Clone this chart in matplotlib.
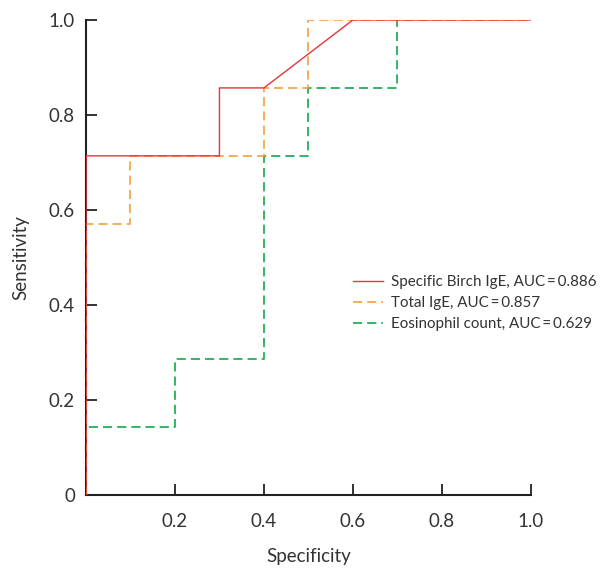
import matplotlib
matplotlib.use("Agg")
import matplotlib.pyplot as plt

# Data (1 - specificity on x as drawn, sensitivity on y)
birch_x = [0.0, 0.0, 0.3, 0.3, 0.4, 0.6, 1.0]
birch_y = [0.0, 0.714, 0.714, 0.857, 0.857, 1.0, 1.0]
total_x = [0.0, 0.0, 0.1, 0.1, 0.4, 0.4, 0.5, 0.5, 1.0]
total_y = [0.0, 0.571, 0.571, 0.714, 0.714, 0.857, 0.857, 1.0, 1.0]
eos_x = [0.0, 0.0, 0.2, 0.2, 0.4, 0.4, 0.5, 0.5, 0.7, 0.7, 1.0]
eos_y = [0.0, 0.143, 0.143, 0.286, 0.286, 0.714, 0.714, 0.857, 0.857, 1.0, 1.0]
labels = ["Specific Birch IgE, AUC\u2009=\u20090.886",
          "Total IgE, AUC\u2009=\u20090.857",
          "Eosinophil count, AUC\u2009=\u20090.629"]
xticks = [0.2, 0.4, 0.6, 0.8, 1.0]
xticklabels = ["0.2", "0.4", "0.6", "0.8", "1.0"]
yticks = [0.0, 0.2, 0.4, 0.6, 0.8, 1.0]
yticklabels = ["0", "0.2", "0.4", "0.6", "0.8", "1.0"]

plt.rcParams['font.family'] = ['Lato', 'DejaVu Sans']

fig = plt.figure(figsize=(6.02, 5.68), dpi=100)
ax = fig.add_axes([0.1429, 0.1285, 0.8816 - 0.1429, 0.9648 - 0.1285])

ax.plot(eos_x, eos_y, color='#12a84a', lw=1.2, dashes=(5.5, 3), label=labels[2], zorder=2)
ax.plot(total_x, total_y, color='#f5a03c', lw=1.2, dashes=(5.5, 3), label=labels[1], zorder=3)
ax.plot(birch_x, birch_y, color='#e8343a', lw=1.0, label=labels[0], zorder=4)

ax.set_xlim(0, 1.0)
ax.set_ylim(0, 1.0)
ax.set_xticks(xticks)
ax.set_xticklabels(xticklabels)
ax.set_yticks(yticks)
ax.set_yticklabels(yticklabels)
ax.tick_params(direction='in', length=8, width=1.3, color='#222222', labelsize=13.5, labelcolor='#333333')
ax.tick_params(axis='x', pad=13)
ax.tick_params(axis='y', pad=8)
for s in ['top', 'right']:
    ax.spines[s].set_visible(False)
for s in ['left', 'bottom']:
    ax.spines[s].set_linewidth(1.5)
    ax.spines[s].set_color('#222222')

ax.set_xlabel('Specificity', fontsize=13.5, color='#333333', labelpad=13)
ax.set_ylabel('Sensitivity', fontsize=13.5, color='#333333', labelpad=14)

handles, labs = ax.get_legend_handles_labels()
order = [2, 1, 0]
ax.legend([handles[i] for i in order], [labs[i] for i in order], frameon=False,
          fontsize=10.9, loc='center left', bbox_to_anchor=(0.6, 0.404),
          handlelength=2.0, handletextpad=0.5, labelspacing=0.45, labelcolor='#333333',
          borderaxespad=0, borderpad=0)

fig.savefig('out.png', dpi=100)
